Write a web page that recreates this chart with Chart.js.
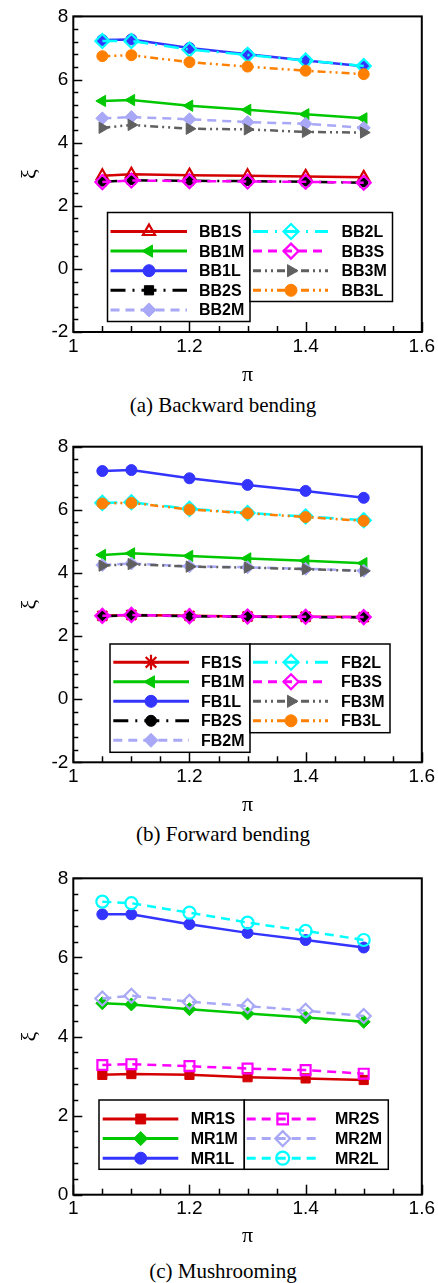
<!DOCTYPE html>
<html><head><meta charset="utf-8">
<script src="https://cdn.jsdelivr.net/npm/chart.js@4.4.1/dist/chart.umd.min.js"></script>
<style>
html,body{margin:0;padding:0;background:#fff;width:438px;height:1283px;overflow:hidden;position:relative}
canvas{position:absolute;left:0}
.cap{position:absolute;left:0;width:446px;text-align:center;font-family:"Liberation Serif","Times New Roman",serif;font-size:21px;line-height:24px;color:#000}
</style></head><body>
<canvas id="ca" width="438" height="390" style="top:0px"></canvas>
<div class="cap" style="top:393px">(a) Backward bending</div>
<canvas id="cb" width="438" height="400" style="top:420px"></canvas>
<div class="cap" style="top:822px">(b) Forward bending</div>
<canvas id="cc" width="438" height="400" style="top:850px"></canvas>
<div class="cap" style="top:1259px">(c) Mushrooming</div>
<script>
// ---------- data ----------
const xs = [1.05, 1.1, 1.2, 1.3, 1.4, 1.5];
const xTicks = [1, 1.2, 1.4, 1.6];

// (a) Backward bending
const BB1S = [2.95, 3.00, 2.97, 2.95, 2.93, 2.90];
const BB1M = [5.32, 5.35, 5.17, 5.04, 4.90, 4.77];
const BB1L = [7.25, 7.27, 7.00, 6.80, 6.60, 6.42];
const BB2S = [2.76, 2.81, 2.79, 2.78, 2.76, 2.73];
const BB2M = [4.77, 4.81, 4.74, 4.65, 4.60, 4.47];
const BB2L = [7.22, 7.22, 6.95, 6.78, 6.60, 6.43];
const BB3S = [2.75, 2.80, 2.78, 2.77, 2.76, 2.73];
const BB3M = [4.47, 4.56, 4.44, 4.42, 4.34, 4.32];
const BB3L = [6.74, 6.77, 6.55, 6.41, 6.28, 6.17];

// (b) Forward bending
const FB1S = [2.64, 2.67, 2.64, 2.62, 2.61, 2.60];
const FB1M = [4.57, 4.62, 4.54, 4.46, 4.39, 4.31];
const FB1L = [7.23, 7.26, 7.00, 6.79, 6.60, 6.38];
const FB2S = [2.63, 2.66, 2.63, 2.61, 2.60, 2.59];
const FB2M = [4.25, 4.30, 4.21, 4.18, 4.13, 4.07];
const FB2L = [6.22, 6.24, 6.03, 5.90, 5.79, 5.67];
const FB3S = [2.64, 2.67, 2.63, 2.62, 2.61, 2.60];
const FB3M = [4.23, 4.28, 4.20, 4.17, 4.12, 4.06];
const FB3L = [6.20, 6.22, 6.01, 5.89, 5.77, 5.65];

// (c) Mushrooming
const MR1S = [3.03, 3.05, 3.03, 2.97, 2.94, 2.90];
const MR1M = [4.84, 4.81, 4.69, 4.58, 4.48, 4.37];
const MR1L = [7.09, 7.09, 6.84, 6.62, 6.44, 6.25];
const MR2S = [3.28, 3.30, 3.25, 3.19, 3.15, 3.06];
const MR2M = [4.96, 5.03, 4.88, 4.77, 4.65, 4.52];
const MR2L = [7.41, 7.37, 7.13, 6.88, 6.67, 6.44];

const labelsA = ['BB1S','BB1M','BB1L','BB2S','BB2M','BB2L','BB3S','BB3M','BB3L'];
const labelsB = ['FB1S','FB1M','FB1L','FB2S','FB2M','FB2L','FB3S','FB3M','FB3L'];
const labelsC = ['MR1S','MR1M','MR1L','MR2S','MR2M','MR2L'];
const seriesA = [BB1S, BB1M, BB1L, BB2S, BB2M, BB2L, BB3S, BB3M, BB3L];
const seriesB = [FB1S, FB1M, FB1L, FB2S, FB2M, FB2L, FB3S, FB3M, FB3L];
const seriesC = [MR1S, MR1M, MR1L, MR2S, MR2M, MR2L];

// ---------- styles ----------
const AR = "'Liberation Sans', Arial, sans-serif";
const SERIF = "'Liberation Serif', 'Times New Roman', serif";
const RED='#d40000', GREEN='#00c800', BLUE='#3434ff', BLACK='#000000', LBLUE='#a8a8f6',
      CYAN='#00ffff', MAG='#ff00ff', GRAY='#606060', ORANGE='#ff8000';
const SOLID=[], DASHDOT=[15,7,2,7], LDD=[15,7,2,7], DASH=[9,6], DDOT=[8,4,2,4,2,4];

const stylesA = [
  {c:RED, d:SOLID, ps:'triangle', open:true, r:6.5},
  {c:GREEN, d:SOLID, ps:'triangle', rot:-90, r:6.5},
  {c:BLUE, d:SOLID, ps:'circle', r:5.5},
  {c:BLACK, d:DASHDOT, ps:'rect', r:6},
  {c:LBLUE, d:DASH, ps:'rectRot', r:6.5},
  {c:CYAN, d:LDD, ps:'rectRot', open:true, r:7},
  {c:MAG, d:DASH, ps:'rectRot', open:true, r:7},
  {c:GRAY, d:DDOT, ps:'triangle', rot:90, r:6.5},
  {c:ORANGE, d:DDOT, ps:'circle', r:5.5}
];
const stylesB = [
  {c:RED, d:SOLID, ps:'star', r:7, open:true},
  {c:GREEN, d:SOLID, ps:'triangle', rot:-90, r:6.5},
  {c:BLUE, d:SOLID, ps:'circle', r:5.5},
  {c:BLACK, d:DASHDOT, ps:'circle', r:5},
  {c:LBLUE, d:DASH, ps:'rectRot', r:6.5},
  {c:CYAN, d:LDD, ps:'rectRot', open:true, r:7},
  {c:MAG, d:DASH, ps:'rectRot', open:true, r:7},
  {c:GRAY, d:DDOT, ps:'triangle', rot:90, r:6.5},
  {c:ORANGE, d:DDOT, ps:'circle', r:5.5}
];
const stylesC = [
  {c:RED, d:SOLID, ps:'rect', r:6.5},
  {c:GREEN, d:SOLID, ps:'rectRot', r:6.5},
  {c:BLUE, d:SOLID, ps:'circle', r:5.5},
  {c:MAG, d:DASH, ps:'rect', open:true, r:7},
  {c:LBLUE, d:DASH, ps:'rectRot', open:true, r:7},
  {c:CYAN, d:DASH, ps:'circle', open:true, r:6}
];

// ---------- plugin: frame, inward ticks, legend ----------
function drawMarker(ctx, ds, x, y) {
  ctx.save();
  ctx.setLineDash([]);
  ctx.strokeStyle = ds.pointBorderColor;
  ctx.fillStyle = ds.pointBackgroundColor;
  ctx.lineWidth = ds.pointBorderWidth;
  Chart.helpers.drawPoint(ctx, {pointStyle: ds.pointStyle, rotation: ds.pointRotation,
    radius: ds.pointRadius, borderWidth: ds.pointBorderWidth}, x, y);
  ctx.restore();
}
const decor = {
  id: 'decor',
  afterDraw(chart, args, opts) {
    const ctx = chart.ctx, a = chart.chartArea;
    const xs_ = chart.scales.x, ys_ = chart.scales.y;
    ctx.save();
    ctx.strokeStyle = '#000';
    ctx.lineWidth = 1.5;
    const ny = Math.round((ys_.max - ys_.min) / 0.4);
    for (let k = 0; k <= ny; k++) {
      const v = ys_.min + k * 0.4;
      const py = Math.round(ys_.getPixelForValue(v)) + 0.5;
      const len = (k % 5 === 0) ? 9 : 5;
      ctx.beginPath(); ctx.moveTo(a.left, py); ctx.lineTo(a.left + len, py); ctx.stroke();
    }
    const nx = Math.round((xs_.max - xs_.min) / 0.05);
    for (let k = 0; k <= nx; k++) {
      const v = xs_.min + k * 0.05;
      const px = Math.round(xs_.getPixelForValue(v)) + 0.5;
      const len = (k % 4 === 0) ? 10 : 6;
      ctx.beginPath(); ctx.moveTo(px, a.bottom); ctx.lineTo(px, a.bottom - len); ctx.stroke();
    }
    ctx.lineWidth = 2;
    ctx.strokeRect(a.left, a.top, a.right - a.left, a.bottom - a.top);

    const L = opts.legend;
    ctx.lineWidth = 1.5;
    L.boxes.forEach(b => {
      ctx.fillStyle = '#fff';
      ctx.fillRect(b[0], b[1], b[2] - b[0], b[3] - b[1]);
      ctx.strokeStyle = '#000';
      ctx.strokeRect(b[0], b[1], b[2] - b[0], b[3] - b[1]);
    });
    const dsets = chart.data.datasets;
    L.cols.forEach(col => {
      for (let i = 0; i < col.n; i++) {
        const ds = dsets[col.start + i];
        const y = L.row0 + i * L.dy;
        ctx.save();
        ctx.strokeStyle = ds.borderColor;
        ctx.lineWidth = 3;
        ctx.setLineDash(ds.borderDash);
        ctx.beginPath(); ctx.moveTo(col.l0, y); ctx.lineTo(col.l1, y); ctx.stroke();
        ctx.restore();
        drawMarker(ctx, Object.assign({}, ds, {pointRadius: ds.pointRadius + 0.5}), col.m, y);
        ctx.fillStyle = '#000';
        ctx.font = "bold 16px " + AR;
        ctx.textBaseline = 'middle';
        ctx.textAlign = 'left';
        ctx.fillText(ds.label, col.t, y + 1);
      }
    });
    ctx.restore();
  }
};

function makeChart(id, labels, series, styles, cfg) {
  const datasets = series.map((vals, i) => {
    const s = styles[i];
    return {
      label: labels[i],
      data: xs.map((x, j) => ({x: x, y: vals[j]})),
      borderColor: s.c,
      backgroundColor: s.c,
      borderWidth: 2.5,
      borderDash: s.d,
      pointStyle: s.ps,
      pointRotation: s.rot || 0,
      pointRadius: s.r,
      pointBorderColor: s.c,
      pointBackgroundColor: s.open ? 'rgba(0,0,0,0)' : s.c,
      pointBorderWidth: s.open ? 2.2 : 1,
      order: -i,
      tension: 0,
      fill: false
    };
  });
  return new Chart(document.getElementById(id), {
    type: 'line',
    data: {datasets: datasets},
    plugins: [decor],
    options: {
      responsive: false, animation: false, devicePixelRatio: 1,
      layout: {padding: {top: cfg.padTop, right: 15.3, left: 0, bottom: 0}},
      plugins: {legend: {display: false}, tooltip: {enabled: false}, decor: {legend: cfg.legend}},
      scales: {
        x: {
          type: 'linear', min: 1, max: 1.6,
          afterBuildTicks: s => { s.ticks = xTicks.map(v => ({value: v})); },
          ticks: {font: {family: AR, size: 19}, color: '#000', padding: 3, maxRotation: 0, autoSkip: false,
                  callback: v => String(Number(Number(v).toFixed(2)))},
          grid: {display: false, drawTicks: false},
          border: {display: false},
          title: {display: true, text: 'π', color: '#000', font: {family: SERIF, size: 22}, padding: {top: 0, bottom: cfg.piPad}},
          afterFit: s => { s.height = cfg.xh; }
        },
        y: {
          type: 'linear', min: cfg.ymin, max: 8,
          ticks: {stepSize: 2, font: {family: AR, size: 19}, color: '#000', padding: 5},
          grid: {display: false, drawTicks: false},
          border: {display: false},
          title: {display: true, text: 'ξ', color: '#000', font: {family: SERIF, size: 22}, padding: {top: 17, bottom: 0}},
          afterFit: s => { s.width = 73.3; }
        }
      }
    }
  });
}

makeChart('ca', labelsA, seriesA, stylesA, {
  padTop: 15, xh: 58, ymin: -2, piPad: 2,
  legend: {
    boxes: [[107.5, 212.5, 250, 321.5], [250, 212.5, 392.5, 301.5]],
    row0: 231.5, dy: 19.6,
    cols: [{start: 0, n: 5, l0: 110.5, l1: 187, m: 149, t: 199},
           {start: 5, n: 4, l0: 253, l1: 328, m: 291, t: 341.5}]
  }
});
makeChart('cb', labelsB, seriesB, stylesB, {
  padTop: 26.7, xh: 57.7, ymin: -2, piPad: 2,
  legend: {
    boxes: [[110, 224, 250, 332.3], [250, 224, 390, 312.7]],
    row0: 242.3, dy: 19.5,
    cols: [{start: 0, n: 5, l0: 113.3, l1: 189, m: 151, t: 201},
           {start: 5, n: 4, l0: 253, l1: 328, m: 291, t: 341}]
  }
});
makeChart('cc', labelsC, seriesC, stylesC, {
  padTop: 28.3, xh: 55.3, ymin: 0, piPad: 0.5,
  legend: {
    boxes: [[99, 250, 244.3, 319.3], [244.3, 250, 388.3, 319.3]],
    row0: 269, dy: 19.6,
    cols: [{start: 0, n: 3, l0: 102.7, l1: 178.3, m: 140.7, t: 190.7},
           {start: 3, n: 3, l0: 246.7, l1: 320.7, m: 282.7, t: 335}]
  }
});
</script>
</body></html>
